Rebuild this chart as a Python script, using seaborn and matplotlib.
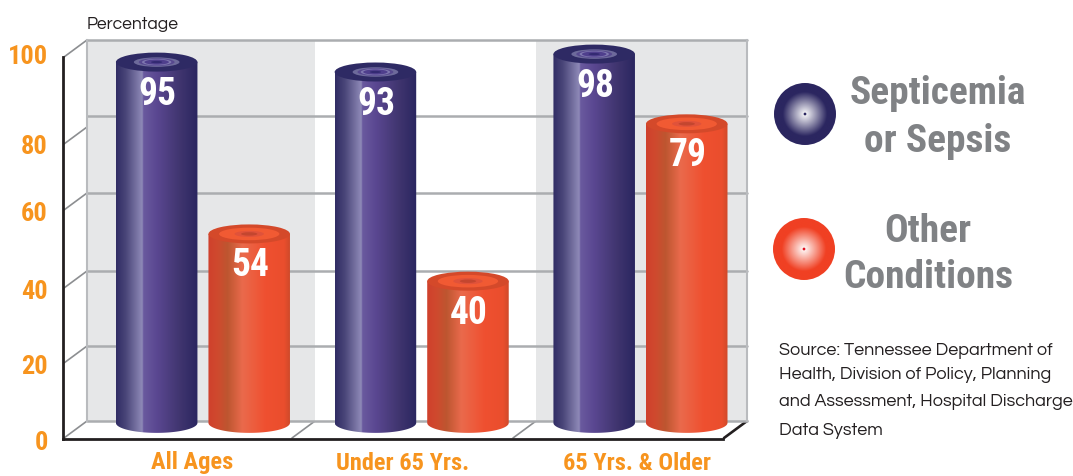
import numpy as np
import pandas as pd
import matplotlib
matplotlib.use("Agg")
import matplotlib.pyplot as plt
import seaborn as sns
from matplotlib.colors import LinearSegmentedColormap, to_rgb
from matplotlib.lines import Line2D
from matplotlib.patches import Ellipse, PathPatch, Circle
from matplotlib.path import Path
from matplotlib.transforms import Affine2D, ScaledTranslation

# ---- data ----
groups = ["All Ages", "Under 65 Yrs.", "65 Yrs. & Older"]
series_names = ["Septicemia or Sepsis", "Other Conditions"]
septicemia_labels = [95, 93, 98]
other_labels = [54, 40, 79]
septicemia_drawn = [94.2, 91.6, 96.3]
other_drawn = [49.1, 36.7, 78.0]
y_ticks = [0, 20, 40, 60, 80, 100]
wall_grid = [0, 19.7, 39.4, 59.8, 80, 100]

W, H = 1073, 476
NARROW = ["Roboto Condensed", "Roboto", "DejaVu Sans"]
SOURCE = ["Questrial", "Lato", "DejaVu Sans"]
ORANGE_TXT = "#f7941e"
GREY_TXT = "#808285"
GRID = "#abadb0"

sns.set_style("white")
fig = plt.figure(figsize=(W / 100, H / 100), dpi=100, facecolor="white")
px = Affine2D().scale(1 / W, -1 / H).translate(0, 1) + fig.transFigure

df = pd.DataFrame({
    "group": groups * 2,
    "series": [series_names[0]] * 3 + [series_names[1]] * 3,
    "value": septicemia_drawn + other_drawn,
    "label": septicemia_labels + other_labels,
})

# back wall axes
wall = fig.add_axes([87 / W, (H - 421) / H, 660 / W, 381 / H], zorder=1)
sns.barplot(data=df, x="group", y="value", hue="series", hue_order=series_names,
            palette=["#3f3675", "#ef5030"], width=0.846, gap=0.119, dodge=True,
            legend=False, ax=wall, linewidth=0)
bars = list(wall.patches)
XLIM = (-0.530, 2.487)
wall.set_xlim(*XLIM)
wall.set_ylim(0, 100)
wall.set_facecolor("white")
wall.set_xlabel("")
wall.set_ylabel("")
wall.set_xticks([])
wall.set_yticks(wall_grid)
wall.set_yticklabels([])
wall.tick_params(length=0)
wall.set_axisbelow(True)
wall.grid(axis="y", color=GRID, lw=1.8, zorder=1.5)
for g in wall.get_ygridlines():
    g.set_clip_on(False)
    g.set_zorder(1.5)
for s in wall.spines.values():
    s.set_visible(False)
for s in ("left", "right"):
    wall.spines[s].set_visible(True)
    wall.spines[s].set_color("#b9bbbe")
    wall.spines[s].set_linewidth(1.5)
for a, b in [(XLIM[0], 0.512), (1.522, XLIM[1])]:
    wall.axvspan(a, b, color="#e6e7e8", lw=0, zorder=0.5)

cmap_sep = LinearSegmentedColormap.from_list("sep", [
    (0.00, "#302c64"), (0.12, "#4a4679"), (0.32, "#8f8ab8"), (0.335, "#6a5a9f"),
    (0.50, "#5a4791"), (0.78, "#40356f"), (1.00, "#2a2660")])
cmap_oth = LinearSegmentedColormap.from_list("oth", [
    (0.00, "#d0402c"), (0.12, "#cf4a2e"), (0.24, "#bd5630"), (0.42, "#ea6a4c"),
    (0.70, "#ef5030"), (0.93, "#ea4e2d"), (1.00, "#cf4a2a")])

U_PER_PX_Y = 100 / 381
EH = 9.5 * U_PER_PX_Y      # ellipse semi-height in value units
grad = np.linspace(0, 1, 256)[None, :]

for i, bar in enumerate(bars):
    x0, w, h = bar.get_x(), bar.get_width(), bar.get_height()
    cx = x0 + w / 2
    sep = i < 3
    base_y = -0.5
    t = np.linspace(np.pi, 2 * np.pi, 60)
    arc = np.c_[cx + w / 2 * np.cos(t), base_y + EH * 1.05 * np.sin(t)]
    outline = Path(np.r_[[(x0, h)], arc, [(x0 + w, h), (x0, h)]])
    clip = PathPatch(outline, transform=wall.transData)
    im = wall.imshow(grad, extent=(x0, x0 + w, base_y - 2 * EH, h), aspect="auto",
                     cmap=cmap_sep if sep else cmap_oth, zorder=3,
                     interpolation="bilinear")
    im.set_clip_box(fig.bbox)
    im.set_clip_path(clip)
    bar.set_visible(False)
    if sep:
        layers = [(1.00, 1.00, "#2e2a64"), (0.56, 0.50, "#6d6a9b"), (0.44, 0.40, "#57498f"),
                  (0.36, 0.34, "#7f78b0"), (0.30, 0.27, "#4f3f8d"), (0.14, 0.12, "#332a72")]
    else:
        layers = [(1.00, 1.00, "#d4492a"), (0.74, 0.66, "#f15a33"), (0.36, 0.32, "#e0523a"),
                  (0.20, 0.18, "#c4462f")]
    for fw, fh, c in layers:
        wall.add_patch(Ellipse((cx, h), w * fw, 2 * EH * fh, fc=c, ec="none", zorder=4,
                               clip_on=False))
    off = ScaledTranslation(1 / 100, -32 / 100, fig.dpi_scale_trans)
    wall.text(cx, h, str(df["label"].iloc[i]), transform=wall.transData + off,
              ha="center", va="center", color="white", fontsize=27, fontweight="bold",
              family=NARROW, zorder=5)
wall.set_xlim(*XLIM)
wall.set_ylim(0, 100)

# front axes: black axis lines, ticks, tick labels
front = fig.add_axes([63 / W, (H - 439) / H, 660 / W, 382 / H], zorder=2)
front.patch.set_alpha(0)
front.set_xlim(*XLIM)
front.set_ylim(0, 100)
for s in ("top", "right"):
    front.spines[s].set_visible(False)
for s in ("left", "bottom"):
    front.spines[s].set_color("#231f20")
    front.spines[s].set_linewidth(2.0)
front.set_yticks(y_ticks)
front.set_yticklabels([str(v) for v in y_ticks], family=NARROW, fontweight="bold",
                      fontsize=19, color=ORANGE_TXT)
front.tick_params(axis="y", length=4.5, width=2.0, color="#231f20", pad=6.5)
for tick, v in zip(front.yaxis.get_major_ticks(), y_ticks):
    if v not in (0, 100):
        tick.tick1line.set_visible(False)
for lab, dy in zip(front.get_yticklabels(), [-1, -2.4, -3.5, -2, -11.3, 2.3]):
    lab.set_transform(lab.get_transform() + ScaledTranslation(0, dy / 100, fig.dpi_scale_trans))
front.set_xticks([0, 1, 2])
front.set_xticklabels(groups, family=NARROW, fontweight="bold", fontsize=17.6, color=ORANGE_TXT)
front.set_xticks([XLIM[0], 0.5077, 1.527, XLIM[1]], minor=True)
front.tick_params(axis="x", which="major", length=0, pad=9)
front.tick_params(axis="x", which="minor", length=4.5, width=2.0, color="#231f20")
for lab, dx in zip(front.get_xticklabels(), [13, 5, 20.5]):
    lab.set_transform(lab.get_transform() + ScaledTranslation(dx / 100, 0, fig.dpi_scale_trans))

# perspective floor / side-wall lines
for bx, by, fx, fy, col in [(87, 40, 64, 57, "#8c8e91"), (87, 127, 64, 144, "#8c8e91"),
                            (87, 193, 64, 210, "#8c8e91"), (87, 271, 64, 288, "#8c8e91"),
                            (87, 346, 64, 363, "#8c8e91"), (87, 421, 64, 438, "#8c8e91"),
                            (315, 421, 292, 438, "#8c8e91"), (536, 421, 513, 438, "#8c8e91"),
                            (747, 421, 724, 438, "#231f20")]:
    fig.add_artist(Line2D([bx, fx], [by, fy], transform=px, color=col,
                          lw=1.9 if col == "#231f20" else 1.2, zorder=0.8))

# legend swatches
def swatch(cx, cy, r, rim, dot):
    ax = fig.add_axes([(cx - r) / W, (H - cy - r) / H, 2 * r / W, 2 * r / H], zorder=3)
    ax.axis("off")
    yy, xx = np.mgrid[-1:1:200j, -1:1:200j]
    rr = np.clip(np.hypot(xx, yy) / 0.72, 0, 1)[..., None]
    col = (1 - rr) * np.array([1, 1, 1]) + rr * np.array(to_rgb(rim))
    im = ax.imshow(col, extent=(-1, 1, -1, 1))
    c = Circle((0, 0), 1, transform=ax.transData, fc="none", ec="none")
    ax.add_patch(c)
    im.set_clip_path(c)
    ax.add_patch(Circle((0, 0), 0.045, fc=dot, ec="none"))

swatch(805, 114, 31, "#2b2660", "#2b2660")
swatch(804, 249, 31, "#f04023", "#e01020")

for s, x, y in [("Septicemia", 938, 94), ("or Sepsis", 938, 141),
                ("Other", 928, 232), ("Conditions", 928, 278)]:
    fig.text(x, y, s, transform=px, ha="center", va="center", family=NARROW,
             fontweight="bold", fontsize=28.4, color=GREY_TXT)

fig.text(87, 24, "Percentage", transform=px, ha="left", va="center", family=SOURCE,
         fontsize=12.6, color="#231f20")
for s, y in [("Source: Tennessee Department of", 351), ("Health, Division of Policy, Planning", 375),
             ("and Assessment, Hospital Discharge", 402), ("Data System", 431)]:
    fig.text(779, y, s, transform=px, ha="left", va="center", family=SOURCE,
             fontsize=13, color="#231f20")

fig.savefig("out.png", dpi=100)
